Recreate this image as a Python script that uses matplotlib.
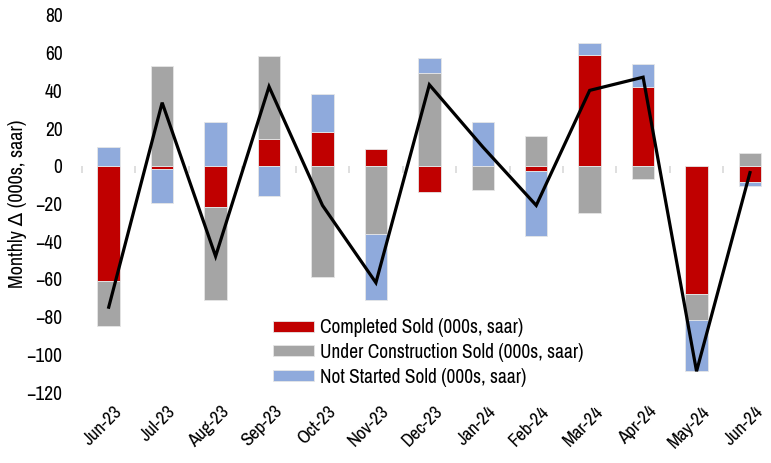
import numpy as np
import matplotlib
matplotlib.use("Agg")
import matplotlib.pyplot as plt
from matplotlib import font_manager
import matplotlib.transforms as mtransforms

# Monthly change in new home sales by stage of construction (000s, saar)
months = ["Jun-23", "Jul-23", "Aug-23", "Sep-23", "Oct-23", "Nov-23", "Dec-23",
          "Jan-24", "Feb-24", "Mar-24", "Apr-24", "May-24", "Jun-24"]
completed_sold = [-61, -1.5, -22, 14, 18, 9, -14, 0, -3, 59, 42, -68, -8.6]
under_construction_sold = [-24, 53, -49, 44, -59, -36, 49, -13, 16, -25, -7, -14, 7]
not_started_sold = [10, -18, 23, -16, 20, -35, 8, 23, -34, 6, 12, -27, -2]
total_sold = [-75, 33.5, -48, 42, -21, -62, 43, 10, -21, 40, 47, -109, -3.6]

series_names = ["Completed Sold (000s, saar)",
                "Under Construction Sold (000s, saar)",
                "Not Started Sold (000s, saar)"]
series_colors = ["#C00000", "#A5A5A5", "#8FAADC"]
y_ticks = [80, 60, 40, 20, 0, -20, -40, -60, -80, -100, -120]

installed = {f.name for f in font_manager.fontManager.ttflist}
preferred = ["Arial Narrow", "Liberation Sans Narrow", "Archivo Narrow", "PT Sans Narrow",
             "Roboto Condensed", "Liberation Sans"]
main_font = next(f for f in preferred if f in installed)
plt.rcParams["font.family"] = [main_font, "DejaVu Sans"]

fig = plt.figure(figsize=(7.71, 4.63), dpi=100)
ax = fig.add_axes([82 / 771, 1 - 392 / 463, 694.7 / 771, 377 / 463])

x = np.arange(len(months))
pos_base = np.zeros(len(months))
neg_base = np.zeros(len(months))
for vals, name, col in zip([completed_sold, under_construction_sold, not_started_sold],
                           series_names, series_colors):
    v = np.array(vals, dtype=float)
    bottoms = np.where(v >= 0, pos_base, neg_base)
    ax.bar(x, v, width=0.42, bottom=bottoms, color=col, label=name,
           edgecolor="#e6e6e6", linewidth=0.6, zorder=2)
    pos_base += np.where(v > 0, v, 0)
    neg_base += np.where(v < 0, v, 0)

ax.plot(x, total_sold, color="black", linewidth=2.3, solid_joinstyle="miter", zorder=4)

ax.set_xlim(-0.5, len(months) - 0.5)
ax.set_ylim(-120, 80)
ax.set_yticks(y_ticks)
ax.tick_params(axis="y", length=0, labelsize=14, pad=14)
ax.set_ylabel("Monthly \u0394 (000s, saar)", fontsize=14.5, labelpad=0)

for s in ax.spines.values():
    s.set_visible(False)

# Category labels at the bottom, rotated
ax.set_xticks(x)
ax.set_xticklabels(months, rotation=45, ha="right", rotation_mode="anchor", fontsize=13.5)
ax.tick_params(axis="x", length=0, pad=8)
offset = mtransforms.ScaledTranslation(5 / 100, 0, fig.dpi_scale_trans)
for lbl in ax.get_xticklabels():
    lbl.set_transform(lbl.get_transform() + offset)

# Zero axis line with category boundary ticks
zero_frac = (0 - (-120)) / (80 - (-120))
sec = ax.secondary_xaxis(zero_frac)
sec.set_zorder(3)
sec.set_xticks(np.arange(-0.5, len(months) + 0.5, 1.0))
sec.tick_params(axis="x", direction="out", length=5, width=1.2, color="#D9D9D9",
                labelbottom=False, labeltop=False, bottom=True, top=False)
sec.spines["bottom"].set_color("#D9D9D9")
sec.spines["bottom"].set_linewidth(1.8)
sec.spines["top"].set_visible(False)
sec.xaxis.set_ticks_position("bottom")
sec.set_xticklabels([])

fig.legend(loc="upper left", bbox_to_anchor=(273 / 771, 1 - 318 / 463),
           frameon=False, fontsize=14, handlelength=2.1, handleheight=0.5,
           handletextpad=0.3, labelspacing=0.3, borderpad=0, borderaxespad=0)

fig.savefig("out.png", dpi=100)
